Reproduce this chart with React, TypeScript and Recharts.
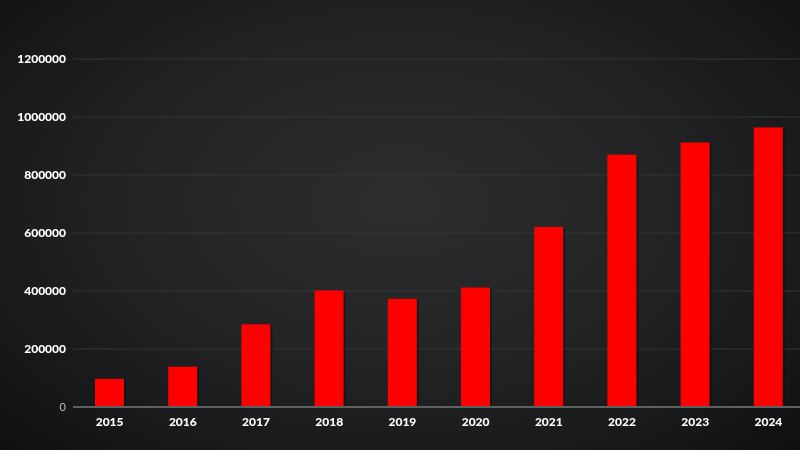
import { Bar, BarChart, CartesianGrid, XAxis, YAxis } from "recharts"

const years = ["2015", "2016", "2017", "2018", "2019", "2020", "2021", "2022", "2023", "2024"]
const totals = [97000, 139000, 285000, 402000, 373000, 412000, 621000, 870000, 912000, 964000]
const yTicks = [0, 200000, 400000, 600000, 800000, 1000000, 1200000]

const data = years.map((year, i) => ({ year, total: totals[i] }))

const YTick = (props: any) => {
  const { x, y, payload } = props
  const zero = payload.value === 0
  return (
    <text
      x={x}
      y={y}
      dy={4}
      textAnchor="end"
      fill={zero ? "#bdbdbd" : "#ffffff"}
      fontFamily="Lato"
      fontWeight={zero ? 400 : 900}
      fontSize={zero ? 11 : 12}
    >
      {payload.value}
    </text>
  )
}

// bar with a soft dark offset behind it
const ShadowBar = (props: any) => {
  const { x, y, width, height, fill } = props
  return (
    <g>
      <rect x={x + 2} y={y + 1} width={width} height={height} fill="rgba(0,0,0,0.3)" />
      <rect x={x} y={y} width={width} height={height} fill={fill} />
    </g>
  )
}

export default function App() {
  return (
    <div
      style={{
        position: "fixed",
        left: 0,
        top: 0,
        width: 800,
        height: 450,
        overflow: "hidden",
        background: "radial-gradient(ellipse at 50% 45%, #2c2d2f 0%, #232426 45%, #151618 85%, #0e0f11 100%)",
      }}
    >
      <BarChart
        width={805}
        height={450}
        data={data}
        margin={{ top: 59, right: 0, bottom: 13, left: 0 }}
      >
        <CartesianGrid vertical={false} stroke="#333436" strokeWidth={1} />
        <XAxis
          dataKey="year"
          height={30}
          tickLine={false}
          axisLine={{ stroke: "#5f6062", strokeWidth: 2 }}
          tick={{ fill: "#ffffff", fontFamily: "Lato", fontWeight: 900, fontSize: 12 }}
          tickMargin={4}
        />
        <YAxis
          width={73}
          domain={[0, 1200000]}
          ticks={yTicks}
          interval={0}
          tickLine={false}
          axisLine={false}
          tickSize={0}
          tickMargin={7}
          tick={<YTick />}
        />
        <Bar dataKey="total" fill="#ff0000" barSize={29} shape={<ShadowBar />} isAnimationActive={false} />
      </BarChart>
    </div>
  )
}
